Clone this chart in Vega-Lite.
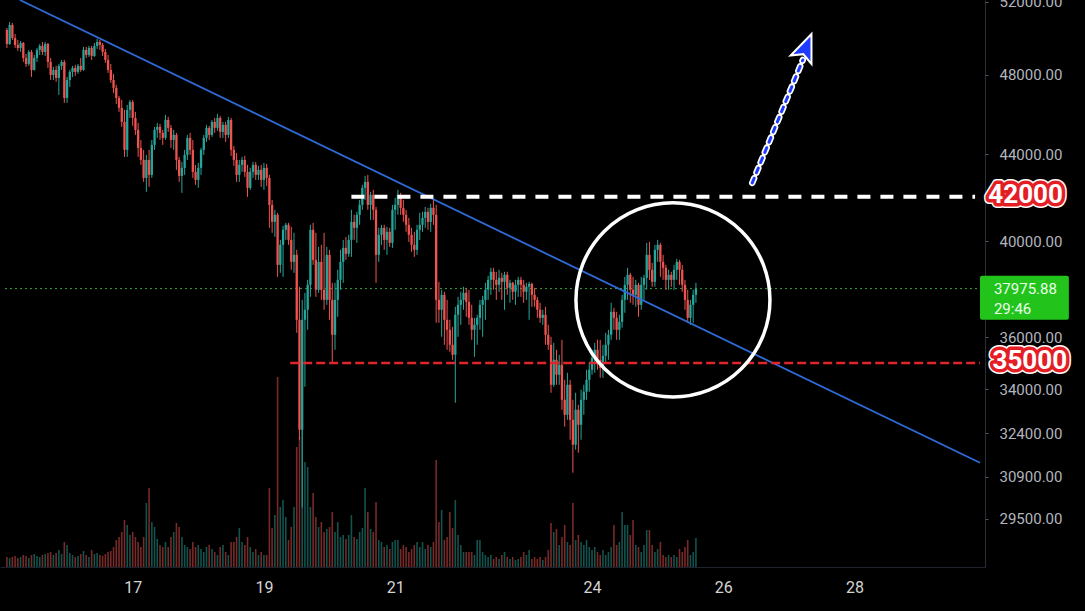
{
  "$schema": "https://vega.github.io/schema/vega-lite/v6.json",
  "background": "#000000",
  "width": 985,
  "height": 567,
  "autosize": {"type": "none"},
  "padding": {"left": 0, "top": 0, "right": 100, "bottom": 44},
  "data": {
    "values": [
      {"hr":2,"o":50431,"h":50542,"l":49447,"c":49663,"v":100},
      {"hr":3,"o":49663,"h":50873,"l":49609,"c":50708,"v":90},
      {"hr":4,"o":50708,"h":50818,"l":49879,"c":49989,"v":100},
      {"hr":5,"o":49989,"h":50210,"l":49447,"c":49609,"v":110},
      {"hr":6,"o":49609,"h":49879,"l":49284,"c":49447,"v":90},
      {"hr":7,"o":49447,"h":49825,"l":49230,"c":49717,"v":100},
      {"hr":8,"o":49717,"h":49771,"l":48692,"c":48906,"v":120},
      {"hr":9,"o":48906,"h":49122,"l":48428,"c":48586,"v":110},
      {"hr":10,"o":48586,"h":49339,"l":48481,"c":49230,"v":90},
      {"hr":11,"o":49230,"h":49339,"l":47899,"c":48269,"v":120},
      {"hr":12,"o":48269,"h":49068,"l":48230,"c":48906,"v":130},
      {"hr":13,"o":48906,"h":49447,"l":48692,"c":49339,"v":110},
      {"hr":14,"o":49339,"h":49663,"l":49068,"c":49555,"v":100},
      {"hr":15,"o":49555,"h":49771,"l":49068,"c":49230,"v":120},
      {"hr":16,"o":49230,"h":49771,"l":49014,"c":49663,"v":130},
      {"hr":17,"o":49663,"h":49717,"l":48375,"c":48692,"v":140},
      {"hr":18,"o":48692,"h":48906,"l":47740,"c":48005,"v":150},
      {"hr":19,"o":48005,"h":48428,"l":47740,"c":48269,"v":120},
      {"hr":20,"o":48269,"h":48481,"l":47637,"c":47846,"v":140},
      {"hr":21,"o":47846,"h":48586,"l":46964,"c":48481,"v":170},
      {"hr":22,"o":48481,"h":48798,"l":48269,"c":48692,"v":130},
      {"hr":23,"o":48692,"h":48798,"l":46553,"c":46809,"v":250},
      {"hr":24,"o":46809,"h":47899,"l":46553,"c":47740,"v":220},
      {"hr":25,"o":47740,"h":48269,"l":47378,"c":48163,"v":140},
      {"hr":26,"o":48163,"h":48481,"l":47899,"c":48375,"v":120},
      {"hr":27,"o":48375,"h":48534,"l":47952,"c":48163,"v":100},
      {"hr":28,"o":48163,"h":48586,"l":48058,"c":48481,"v":110},
      {"hr":29,"o":48481,"h":48906,"l":48163,"c":48269,"v":130},
      {"hr":30,"o":48269,"h":49501,"l":48216,"c":49339,"v":160},
      {"hr":31,"o":49339,"h":49501,"l":48906,"c":49068,"v":120},
      {"hr":32,"o":49068,"h":49555,"l":48960,"c":49447,"v":100},
      {"hr":33,"o":49447,"h":49555,"l":48798,"c":49014,"v":170},
      {"hr":34,"o":49014,"h":49717,"l":48960,"c":49555,"v":130},
      {"hr":35,"o":49555,"h":49933,"l":49393,"c":49771,"v":140},
      {"hr":36,"o":49771,"h":49879,"l":49339,"c":49609,"v":120},
      {"hr":37,"o":49609,"h":49717,"l":49014,"c":49230,"v":110},
      {"hr":38,"o":49230,"h":49393,"l":48639,"c":48798,"v":130},
      {"hr":39,"o":48798,"h":49068,"l":48111,"c":48269,"v":150},
      {"hr":40,"o":48269,"h":48586,"l":47585,"c":47740,"v":160},
      {"hr":41,"o":47740,"h":48058,"l":47067,"c":47326,"v":200},
      {"hr":42,"o":47326,"h":47481,"l":46502,"c":46809,"v":270},
      {"hr":43,"o":46809,"h":46912,"l":46097,"c":46300,"v":300},
      {"hr":44,"o":46300,"h":46705,"l":45345,"c":45593,"v":350},
      {"hr":45,"o":45593,"h":46199,"l":43877,"c":44217,"v":470},
      {"hr":46,"o":44217,"h":46452,"l":43877,"c":46199,"v":420},
      {"hr":47,"o":46199,"h":46705,"l":45793,"c":46604,"v":320},
      {"hr":48,"o":46604,"h":46705,"l":45395,"c":45793,"v":350},
      {"hr":49,"o":45793,"h":46097,"l":44949,"c":45197,"v":300},
      {"hr":50,"o":45197,"h":45543,"l":43877,"c":44313,"v":250},
      {"hr":51,"o":44313,"h":44701,"l":43495,"c":43732,"v":200},
      {"hr":52,"o":43732,"h":44217,"l":42691,"c":42879,"v":300},
      {"hr":53,"o":42879,"h":43974,"l":42227,"c":43732,"v":640},
      {"hr":54,"o":43732,"h":44217,"l":42459,"c":43021,"v":790},
      {"hr":55,"o":43021,"h":44701,"l":42879,"c":44459,"v":450},
      {"hr":56,"o":44459,"h":45345,"l":44217,"c":45197,"v":400},
      {"hr":57,"o":45197,"h":45543,"l":44800,"c":45345,"v":280},
      {"hr":58,"o":45345,"h":45494,"l":44701,"c":45048,"v":220},
      {"hr":59,"o":45048,"h":45197,"l":44459,"c":44800,"v":200},
      {"hr":60,"o":44800,"h":45945,"l":44701,"c":45692,"v":250},
      {"hr":61,"o":45692,"h":45844,"l":45097,"c":45296,"v":200},
      {"hr":62,"o":45296,"h":45444,"l":44313,"c":44701,"v":300},
      {"hr":63,"o":44701,"h":45197,"l":44217,"c":44949,"v":350},
      {"hr":64,"o":44949,"h":45048,"l":43258,"c":43732,"v":440},
      {"hr":65,"o":43732,"h":43877,"l":42691,"c":42974,"v":400},
      {"hr":66,"o":42974,"h":43637,"l":42181,"c":43353,"v":300},
      {"hr":67,"o":43353,"h":44217,"l":43021,"c":43974,"v":220},
      {"hr":68,"o":43974,"h":44949,"l":43732,"c":44800,"v":200},
      {"hr":69,"o":44800,"h":45048,"l":43974,"c":44217,"v":180},
      {"hr":70,"o":44217,"h":44701,"l":42879,"c":43163,"v":250},
      {"hr":71,"o":43163,"h":43495,"l":42552,"c":42784,"v":200},
      {"hr":72,"o":42784,"h":43590,"l":42413,"c":43353,"v":220},
      {"hr":73,"o":43353,"h":44313,"l":43021,"c":44217,"v":180},
      {"hr":74,"o":44217,"h":44949,"l":43974,"c":44800,"v":150},
      {"hr":75,"o":44800,"h":45444,"l":44604,"c":45296,"v":200},
      {"hr":76,"o":45296,"h":45395,"l":44701,"c":44949,"v":220},
      {"hr":77,"o":44949,"h":45692,"l":44850,"c":45593,"v":180},
      {"hr":78,"o":45593,"h":45793,"l":45048,"c":45296,"v":150},
      {"hr":79,"o":45296,"h":45996,"l":45147,"c":45793,"v":120},
      {"hr":80,"o":45793,"h":45895,"l":44800,"c":45097,"v":200},
      {"hr":81,"o":45097,"h":45593,"l":44800,"c":45444,"v":220},
      {"hr":82,"o":45444,"h":45593,"l":44604,"c":44949,"v":150},
      {"hr":83,"o":44949,"h":45844,"l":44800,"c":45692,"v":120},
      {"hr":84,"o":45692,"h":45793,"l":43926,"c":44217,"v":250},
      {"hr":85,"o":44217,"h":44410,"l":43448,"c":43732,"v":250},
      {"hr":86,"o":43732,"h":44071,"l":42691,"c":43021,"v":300},
      {"hr":87,"o":43021,"h":43732,"l":42691,"c":43495,"v":390},
      {"hr":88,"o":43495,"h":43877,"l":43163,"c":43732,"v":250},
      {"hr":89,"o":43732,"h":43926,"l":42926,"c":43163,"v":220},
      {"hr":90,"o":43163,"h":43495,"l":41995,"c":42413,"v":300},
      {"hr":91,"o":42413,"h":43353,"l":42320,"c":43163,"v":200},
      {"hr":92,"o":43163,"h":43637,"l":42879,"c":43495,"v":150},
      {"hr":93,"o":43495,"h":43637,"l":42784,"c":43021,"v":180},
      {"hr":94,"o":43021,"h":43448,"l":42784,"c":43258,"v":120},
      {"hr":95,"o":43258,"h":43495,"l":42459,"c":42784,"v":150},
      {"hr":96,"o":42784,"h":43590,"l":42320,"c":43353,"v":120},
      {"hr":97,"o":43353,"h":43542,"l":42506,"c":42879,"v":120},
      {"hr":98,"o":42879,"h":43021,"l":40594,"c":41629,"v":790},
      {"hr":99,"o":41629,"h":41856,"l":40372,"c":40860,"v":390},
      {"hr":100,"o":40860,"h":41403,"l":40194,"c":41176,"v":520},
      {"hr":101,"o":41176,"h":41266,"l":38470,"c":38980,"v":1900},
      {"hr":102,"o":38980,"h":40061,"l":38640,"c":39844,"v":600},
      {"hr":103,"o":39844,"h":40683,"l":38470,"c":40505,"v":670},
      {"hr":104,"o":40505,"h":40816,"l":40061,"c":40727,"v":500},
      {"hr":105,"o":40727,"h":40816,"l":39844,"c":40061,"v":270},
      {"hr":106,"o":40061,"h":40638,"l":38768,"c":39107,"v":400},
      {"hr":107,"o":39107,"h":40372,"l":38640,"c":39409,"v":600},
      {"hr":108,"o":39409,"h":39627,"l":36181,"c":36698,"v":1200},
      {"hr":109,"o":36698,"h":38052,"l":32176,"c":32532,"v":1300},
      {"hr":110,"o":32532,"h":37511,"l":29867,"c":36698,"v":1400},
      {"hr":111,"o":36698,"h":37802,"l":34101,"c":37105,"v":1050},
      {"hr":112,"o":37105,"h":38343,"l":36300,"c":38135,"v":1000},
      {"hr":113,"o":38135,"h":40727,"l":37635,"c":40505,"v":600},
      {"hr":114,"o":40505,"h":40816,"l":38980,"c":39192,"v":740},
      {"hr":115,"o":39192,"h":40372,"l":37635,"c":37927,"v":500},
      {"hr":116,"o":37927,"h":39757,"l":37802,"c":39107,"v":400},
      {"hr":117,"o":39107,"h":39844,"l":37511,"c":37927,"v":450},
      {"hr":118,"o":37927,"h":40372,"l":37105,"c":37511,"v":350},
      {"hr":119,"o":37511,"h":39757,"l":37308,"c":39409,"v":380},
      {"hr":120,"o":39409,"h":39627,"l":36698,"c":37511,"v":400},
      {"hr":121,"o":37511,"h":38218,"l":35010,"c":36101,"v":550},
      {"hr":122,"o":36101,"h":38218,"l":35513,"c":37511,"v":350},
      {"hr":123,"o":37511,"h":38768,"l":36820,"c":38343,"v":450},
      {"hr":124,"o":38343,"h":39627,"l":37927,"c":39107,"v":300},
      {"hr":125,"o":39107,"h":40061,"l":38218,"c":39713,"v":320},
      {"hr":126,"o":39713,"h":40194,"l":39192,"c":39453,"v":280},
      {"hr":127,"o":39453,"h":40283,"l":39322,"c":40061,"v":320},
      {"hr":128,"o":40061,"h":41403,"l":39322,"c":40860,"v":520},
      {"hr":129,"o":40860,"h":41176,"l":40061,"c":40594,"v":300},
      {"hr":130,"o":40594,"h":41312,"l":39931,"c":41176,"v":280},
      {"hr":131,"o":41176,"h":41856,"l":40727,"c":41629,"v":350},
      {"hr":132,"o":41629,"h":42552,"l":41403,"c":42413,"v":390},
      {"hr":133,"o":42413,"h":42974,"l":41856,"c":42691,"v":790},
      {"hr":134,"o":42691,"h":43021,"l":41403,"c":41629,"v":550},
      {"hr":135,"o":41629,"h":42227,"l":40949,"c":42088,"v":380},
      {"hr":136,"o":42088,"h":42320,"l":40949,"c":41403,"v":350},
      {"hr":137,"o":41403,"h":41539,"l":38218,"c":39409,"v":650},
      {"hr":138,"o":39409,"h":40594,"l":39107,"c":40283,"v":270},
      {"hr":139,"o":40283,"h":40727,"l":39844,"c":40594,"v":250},
      {"hr":140,"o":40594,"h":40727,"l":39627,"c":40061,"v":200},
      {"hr":141,"o":40061,"h":40638,"l":39409,"c":40416,"v":220},
      {"hr":142,"o":40416,"h":40594,"l":39757,"c":39931,"v":180},
      {"hr":143,"o":39931,"h":41629,"l":39713,"c":41403,"v":250},
      {"hr":144,"o":41403,"h":41949,"l":40505,"c":41629,"v":270},
      {"hr":145,"o":41629,"h":42320,"l":41176,"c":42088,"v":270},
      {"hr":146,"o":42088,"h":42181,"l":41176,"c":41493,"v":180},
      {"hr":147,"o":41493,"h":41856,"l":40860,"c":41176,"v":220},
      {"hr":148,"o":41176,"h":41403,"l":40416,"c":40727,"v":200},
      {"hr":149,"o":40727,"h":41040,"l":39974,"c":40283,"v":150},
      {"hr":150,"o":40283,"h":40594,"l":39540,"c":39844,"v":180},
      {"hr":151,"o":39844,"h":40416,"l":39322,"c":39627,"v":220},
      {"hr":152,"o":39627,"h":40727,"l":39409,"c":40505,"v":250},
      {"hr":153,"o":40505,"h":41266,"l":40061,"c":40727,"v":200},
      {"hr":154,"o":40727,"h":41312,"l":40416,"c":41040,"v":250},
      {"hr":155,"o":41040,"h":41539,"l":40594,"c":41312,"v":180},
      {"hr":156,"o":41312,"h":41493,"l":40505,"c":40860,"v":220},
      {"hr":157,"o":40860,"h":41675,"l":40416,"c":41493,"v":200},
      {"hr":158,"o":41493,"h":41856,"l":40727,"c":41176,"v":250},
      {"hr":159,"o":41176,"h":41629,"l":36579,"c":37511,"v":1070},
      {"hr":160,"o":37511,"h":38260,"l":36579,"c":37105,"v":450},
      {"hr":161,"o":37105,"h":37927,"l":36022,"c":37719,"v":570},
      {"hr":162,"o":37719,"h":37844,"l":35708,"c":36698,"v":270},
      {"hr":163,"o":36698,"h":37511,"l":35513,"c":36300,"v":300},
      {"hr":164,"o":36300,"h":36698,"l":35435,"c":35708,"v":550},
      {"hr":165,"o":35708,"h":36419,"l":35124,"c":35319,"v":390},
      {"hr":166,"o":35319,"h":37226,"l":33508,"c":36901,"v":670},
      {"hr":167,"o":36901,"h":37635,"l":36022,"c":37308,"v":320},
      {"hr":168,"o":37308,"h":37844,"l":36499,"c":37511,"v":220},
      {"hr":169,"o":37511,"h":38052,"l":37105,"c":37802,"v":150},
      {"hr":170,"o":37802,"h":38010,"l":36820,"c":37430,"v":150},
      {"hr":171,"o":37430,"h":37927,"l":36499,"c":36779,"v":150},
      {"hr":172,"o":36779,"h":37308,"l":35902,"c":36300,"v":150},
      {"hr":173,"o":36300,"h":36779,"l":35241,"c":36499,"v":120},
      {"hr":174,"o":36499,"h":36901,"l":35708,"c":36779,"v":270},
      {"hr":175,"o":36779,"h":37511,"l":36300,"c":37308,"v":270},
      {"hr":176,"o":37308,"h":37677,"l":36022,"c":37511,"v":150},
      {"hr":177,"o":37511,"h":38218,"l":36698,"c":37927,"v":120},
      {"hr":178,"o":37927,"h":38513,"l":37511,"c":38343,"v":100},
      {"hr":179,"o":38343,"h":38852,"l":37719,"c":38683,"v":120},
      {"hr":180,"o":38683,"h":38852,"l":37927,"c":38343,"v":80},
      {"hr":181,"o":38343,"h":38683,"l":37511,"c":38135,"v":100},
      {"hr":182,"o":38135,"h":38768,"l":37844,"c":38428,"v":80},
      {"hr":183,"o":38428,"h":38640,"l":37511,"c":38260,"v":120},
      {"hr":184,"o":38260,"h":38683,"l":37105,"c":38555,"v":150},
      {"hr":185,"o":38555,"h":38683,"l":37719,"c":38010,"v":100},
      {"hr":186,"o":38010,"h":38343,"l":37389,"c":38218,"v":80},
      {"hr":187,"o":38218,"h":38260,"l":37511,"c":37844,"v":100},
      {"hr":188,"o":37844,"h":38343,"l":37308,"c":38135,"v":70},
      {"hr":189,"o":38135,"h":38470,"l":37635,"c":38343,"v":80},
      {"hr":190,"o":38343,"h":38470,"l":37635,"c":38135,"v":100},
      {"hr":191,"o":38135,"h":38343,"l":37389,"c":37844,"v":150},
      {"hr":192,"o":37844,"h":38218,"l":37511,"c":38052,"v":120},
      {"hr":193,"o":38052,"h":38260,"l":36698,"c":38177,"v":170},
      {"hr":194,"o":38177,"h":38218,"l":37226,"c":37719,"v":80},
      {"hr":195,"o":37719,"h":38010,"l":37226,"c":37511,"v":100},
      {"hr":196,"o":37511,"h":37635,"l":36779,"c":37105,"v":80},
      {"hr":197,"o":37105,"h":37389,"l":36579,"c":36779,"v":100},
      {"hr":198,"o":36779,"h":37105,"l":36499,"c":36901,"v":70},
      {"hr":199,"o":36901,"h":37226,"l":35708,"c":36101,"v":100},
      {"hr":200,"o":36101,"h":36499,"l":35513,"c":35708,"v":170},
      {"hr":201,"o":35708,"h":36022,"l":33878,"c":34176,"v":440},
      {"hr":202,"o":34176,"h":35785,"l":34101,"c":35124,"v":350},
      {"hr":203,"o":35124,"h":35513,"l":34176,"c":34553,"v":380},
      {"hr":204,"o":34553,"h":35319,"l":34176,"c":34934,"v":220},
      {"hr":205,"o":34934,"h":35902,"l":33253,"c":33617,"v":300},
      {"hr":206,"o":33617,"h":34362,"l":32639,"c":33070,"v":420},
      {"hr":207,"o":33070,"h":34629,"l":32888,"c":34176,"v":250},
      {"hr":208,"o":34176,"h":34362,"l":32176,"c":32888,"v":220},
      {"hr":209,"o":32888,"h":33617,"l":31034,"c":32002,"v":640},
      {"hr":210,"o":32002,"h":33878,"l":31827,"c":33253,"v":270},
      {"hr":211,"o":33253,"h":33435,"l":31722,"c":32710,"v":320},
      {"hr":212,"o":32710,"h":33990,"l":32176,"c":33617,"v":250},
      {"hr":213,"o":33617,"h":34176,"l":33070,"c":33915,"v":220},
      {"hr":214,"o":33915,"h":34743,"l":33617,"c":34362,"v":270},
      {"hr":215,"o":34362,"h":35048,"l":33915,"c":34743,"v":200},
      {"hr":216,"o":34743,"h":35513,"l":34553,"c":35202,"v":170},
      {"hr":217,"o":35202,"h":35785,"l":34629,"c":35513,"v":200},
      {"hr":218,"o":35513,"h":35902,"l":34743,"c":35124,"v":150},
      {"hr":219,"o":35124,"h":35902,"l":34438,"c":34819,"v":120},
      {"hr":220,"o":34819,"h":35708,"l":34438,"c":35280,"v":170},
      {"hr":221,"o":35280,"h":36181,"l":35010,"c":35708,"v":120},
      {"hr":222,"o":35708,"h":36300,"l":35124,"c":36101,"v":150},
      {"hr":223,"o":36101,"h":37389,"l":35902,"c":37023,"v":200},
      {"hr":224,"o":37023,"h":37186,"l":36300,"c":36779,"v":420},
      {"hr":225,"o":36779,"h":37023,"l":35902,"c":36300,"v":220},
      {"hr":226,"o":36300,"h":36901,"l":35902,"c":36618,"v":250},
      {"hr":227,"o":36618,"h":37719,"l":36380,"c":37511,"v":550},
      {"hr":228,"o":37511,"h":38470,"l":36983,"c":38135,"v":420},
      {"hr":229,"o":38135,"h":38852,"l":37511,"c":38555,"v":420},
      {"hr":230,"o":38555,"h":38640,"l":37389,"c":37927,"v":320},
      {"hr":231,"o":37927,"h":38470,"l":37308,"c":37719,"v":470},
      {"hr":232,"o":37719,"h":38343,"l":37226,"c":38135,"v":220},
      {"hr":233,"o":38135,"h":38218,"l":36820,"c":37308,"v":200},
      {"hr":234,"o":37308,"h":38470,"l":37105,"c":38135,"v":150},
      {"hr":235,"o":38135,"h":38555,"l":37511,"c":38428,"v":220},
      {"hr":236,"o":38428,"h":39931,"l":37927,"c":39409,"v":370},
      {"hr":237,"o":39409,"h":39974,"l":38343,"c":38768,"v":370},
      {"hr":238,"o":38768,"h":39065,"l":38052,"c":38260,"v":220},
      {"hr":239,"o":38260,"h":39844,"l":38052,"c":39627,"v":150},
      {"hr":240,"o":39627,"h":40061,"l":39107,"c":39844,"v":180},
      {"hr":241,"o":39844,"h":39931,"l":38470,"c":39107,"v":250},
      {"hr":242,"o":39107,"h":39409,"l":38343,"c":38852,"v":120},
      {"hr":243,"o":38852,"h":38980,"l":37927,"c":38343,"v":100},
      {"hr":244,"o":38343,"h":38768,"l":37927,"c":38555,"v":120},
      {"hr":245,"o":38555,"h":38683,"l":38052,"c":38343,"v":100},
      {"hr":246,"o":38343,"h":38980,"l":37927,"c":38768,"v":120},
      {"hr":247,"o":38768,"h":39235,"l":38343,"c":39107,"v":100},
      {"hr":248,"o":39107,"h":39192,"l":38135,"c":38768,"v":180},
      {"hr":249,"o":38768,"h":38980,"l":37844,"c":38135,"v":150},
      {"hr":250,"o":38135,"h":38343,"l":37105,"c":37511,"v":200},
      {"hr":251,"o":37511,"h":37927,"l":36579,"c":36779,"v":270},
      {"hr":252,"o":36779,"h":37511,"l":36499,"c":37308,"v":120},
      {"hr":253,"o":37308,"h":37927,"l":36579,"c":37719,"v":150},
      {"hr":254,"o":37719,"h":38218,"l":37389,"c":37975.88,"v":290}
    ]
  },
  "resolve": {"scale": {"y": "independent"}},
  "layer": [
    {
      "mark": {"type": "bar", "size": 1.6, "opacity": 0.5},
      "encoding": {
        "x": {
          "field": "hr",
          "type": "quantitative",
          "title": null,
          "scale": {"domain": [1.3, 357.9], "nice": false, "zero": false},
          "axis": {
            "values": [48, 96, 144, 216, 264, 312],
            "labelExpr": "'' + (15 + datum.value / 24)"
          }
        },
        "y": {
          "field": "v",
          "type": "quantitative",
          "scale": {"domain": [0, 5670]},
          "axis": null
        },
        "color": {
          "condition": {"test": "datum.c >= datum.o", "value": "#26a69a"},
          "value": "#ef5350"
        }
      }
    },
    {
      "layer": [
        {
          "data": {"values": [{"hr": 1.3, "hr2": 357.9, "p": 37975.88, "p2": 37975.88}]},
          "mark": {"type": "rule", "color": "#3aa53a", "strokeWidth": 1, "strokeDash": [2, 3]},
          "encoding": {
            "x": {"field": "hr", "type": "quantitative", "title": null},
            "x2": {"field": "hr2"},
            "y": {"field": "p", "type": "quantitative", "title": null},
            "y2": {"field": "p2"}
          }
        },
        {
          "mark": {"type": "rule", "strokeWidth": 1},
          "encoding": {
            "x": {"field": "hr", "type": "quantitative", "title": null},
            "y": {
              "field": "l",
              "type": "quantitative",
              "title": null,
              "scale": {"type": "log", "domain": [27986, 52114], "nice": false},
              "axis": {
                "orient": "right",
                "values": [29500, 30900, 32400, 34000, 36000, 40000, 44000, 48000, 52000],
                "format": ".2f",
                "labelOverlap": false
              }
            },
            "y2": {"field": "h"},
            "color": {
              "condition": {"test": "datum.c >= datum.o", "value": "#26a69a"},
              "value": "#ef5350"
            }
          }
        },
        {
          "mark": {"type": "bar", "size": 2.3},
          "encoding": {
            "x": {"field": "hr", "type": "quantitative", "title": null},
            "y": {"field": "o", "type": "quantitative", "title": null},
            "y2": {"field": "c"},
            "color": {
              "condition": {"test": "datum.c >= datum.o", "value": "#26a69a"},
              "value": "#ef5350"
            }
          }
        },
        {
          "data": {"values": [{"hr": 6.73, "hr2": 357.9, "p": 52114, "p2": 31376}]},
          "mark": {"type": "rule", "color": "#2e6bd8", "strokeWidth": 1.8},
          "encoding": {
            "x": {"field": "hr", "type": "quantitative", "title": null},
            "x2": {"field": "hr2"},
            "y": {"field": "p", "type": "quantitative", "title": null},
            "y2": {"field": "p2"}
          }
        },
        {
          "data": {"values": [{"hr": 128.0, "hr2": 356.1, "p": 42000, "p2": 42000}]},
          "mark": {"type": "rule", "color": "#ffffff", "strokeWidth": 4, "strokeDash": [13, 10]},
          "encoding": {
            "x": {"field": "hr", "type": "quantitative", "title": null},
            "x2": {"field": "hr2"},
            "y": {"field": "p", "type": "quantitative", "title": null},
            "y2": {"field": "p2"}
          }
        },
        {
          "data": {"values": [{"hr": 105.6, "hr2": 357.9, "p": 35000, "p2": 35000}]},
          "mark": {"type": "rule", "color": "#e0262c", "strokeWidth": 2.5, "strokeDash": [9, 4]},
          "encoding": {
            "x": {"field": "hr", "type": "quantitative", "title": null},
            "x2": {"field": "hr2"},
            "y": {"field": "p", "type": "quantitative", "title": null},
            "y2": {"field": "p2"}
          }
        },
        {
          "data": {"values": [{"hr": 245.6, "p": 37511}]},
          "mark": {"type": "point", "shape": "circle", "filled": false, "stroke": "#ffffff", "strokeWidth": 3.5, "opacity": 1},
          "encoding": {
            "x": {"field": "hr", "type": "quantitative", "title": null},
            "y": {"field": "p", "type": "quantitative", "title": null},
            "size": {"value": 37636}
          }
        },
        {
          "data": {"values": [{"hr": 274.6, "hr2": 293.1, "p": 42645, "p2": 48798}]},
          "mark": {"type": "rule", "color": "#ffffff", "strokeWidth": 6.5, "strokeDash": [5, 6], "strokeCap": "round"},
          "encoding": {
            "x": {"field": "hr", "type": "quantitative", "title": null},
            "x2": {"field": "hr2"},
            "y": {"field": "p", "type": "quantitative", "title": null},
            "y2": {"field": "p2"}
          }
        },
        {
          "data": {"values": [{"hr": 274.6, "hr2": 293.1, "p": 42645, "p2": 48798}]},
          "mark": {"type": "rule", "color": "#1f3bff", "strokeWidth": 3, "strokeDash": [5, 6], "strokeCap": "round"},
          "encoding": {
            "x": {"field": "hr", "type": "quantitative", "title": null},
            "x2": {"field": "hr2"},
            "y": {"field": "p", "type": "quantitative", "title": null},
            "y2": {"field": "p2"}
          }
        },
        {
          "data": {"values": [{"hr": 294.2, "p": 49447}]},
          "mark": {
            "type": "point",
            "shape": "M0,-1L0.75,0.85L0,0.45L-0.75,0.85Z",
            "filled": true,
            "fill": "#1f3bff",
            "stroke": "#ffffff",
            "strokeWidth": 2,
            "opacity": 1,
            "angle": 22
          },
          "encoding": {
            "x": {"field": "hr", "type": "quantitative", "title": null},
            "y": {"field": "p", "type": "quantitative", "title": null},
            "size": {"value": 900}
          }
        },
        {
          "data": {"values": [{"hr": 357.9, "hr2": 390.4, "p": 38513, "p2": 36698}]},
          "mark": {"type": "rect", "color": "#22c41c", "cornerRadius": 2},
          "encoding": {
            "x": {"field": "hr", "type": "quantitative", "title": null},
            "x2": {"field": "hr2"},
            "y": {"field": "p", "type": "quantitative", "title": null},
            "y2": {"field": "p2"}
          }
        },
        {
          "data": {"values": [{"hr": 363.0, "p": 37975.88, "t": "37975.88"}, {"hr": 363.0, "p": 37145, "t": "29:46"}]},
          "mark": {"type": "text", "align": "left", "baseline": "middle", "font": "Roboto", "fontSize": 15, "color": "#eaffea"},
          "encoding": {
            "x": {"field": "hr", "type": "quantitative", "title": null},
            "y": {"field": "p", "type": "quantitative", "title": null},
            "text": {"field": "t"}
          }
        },
        {
          "data": {"values": [{"hr": 374.6, "p": 42000, "t": "42000"}, {"hr": 376.1, "p": 35000, "t": "35000"}]},
          "mark": {"type": "text", "align": "center", "baseline": "middle", "dy": -2, "font": "Roboto", "fontWeight": "bold", "fontSize": 26, "fill": "#ffffff", "stroke": "#ffffff", "strokeWidth": 10, "strokeJoin": "round"},
          "encoding": {
            "x": {"field": "hr", "type": "quantitative", "title": null},
            "y": {"field": "p", "type": "quantitative", "title": null},
            "text": {"field": "t"}
          }
        },
        {
          "data": {"values": [{"hr": 374.6, "p": 42000, "t": "42000"}, {"hr": 376.1, "p": 35000, "t": "35000"}]},
          "mark": {"type": "text", "align": "center", "baseline": "middle", "dy": -2, "font": "Roboto", "fontWeight": "bold", "fontSize": 26, "fill": "#ffffff", "stroke": "#e31e24", "strokeWidth": 7, "strokeJoin": "round"},
          "encoding": {
            "x": {"field": "hr", "type": "quantitative", "title": null},
            "y": {"field": "p", "type": "quantitative", "title": null},
            "text": {"field": "t"}
          }
        },
        {
          "data": {"values": [{"hr": 374.6, "p": 42000, "t": "42000"}, {"hr": 376.1, "p": 35000, "t": "35000"}]},
          "mark": {"type": "text", "align": "center", "baseline": "middle", "dy": -2, "font": "Roboto", "fontWeight": "bold", "fontSize": 26, "fill": "#ffffff"},
          "encoding": {
            "x": {"field": "hr", "type": "quantitative", "title": null},
            "y": {"field": "p", "type": "quantitative", "title": null},
            "text": {"field": "t"}
          }
        }
      ]
    }
  ],
  "config": {
    "view": {"stroke": null},
    "axis": {"grid": false, "labelFont": "Roboto", "title": null},
    "axisX": {
      "labelColor": "#d4d4d4",
      "labelFontSize": 16,
      "tickSize": 0,
      "labelPadding": 12,
      "domainColor": "#1e222d",
      "labelFlush": false
    },
    "axisY": {
      "labelColor": "#b2b5be",
      "labelFontSize": 15,
      "tickSize": 3,
      "tickColor": "#555966",
      "labelPadding": 11,
      "domainColor": "#2a2e39"
    }
  }
}
